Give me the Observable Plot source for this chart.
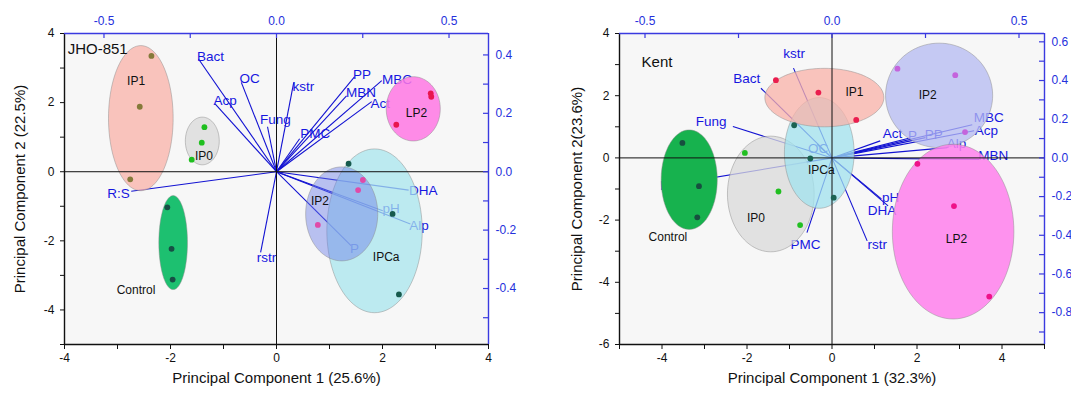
<!DOCTYPE html>
<html><head><meta charset="utf-8">
<script src="https://cdn.jsdelivr.net/npm/d3@7"></script>
<script src="https://cdn.jsdelivr.net/npm/@observablehq/plot@0.6"></script>
<style>
body{margin:0;background:#fff}
#wrap{position:relative;width:1071px;height:395px;background:#fff}
#left,#right{position:absolute;top:0}
#left{left:0}
#right{left:540px}
</style>
</head><body><div id="wrap"><div id="left"></div><div id="right"></div></div>
<script>
// ---------------- JHO-851 ----------------
const jhoGroup = ["IP1","IP1","IP1","IP0","IP0","IP0","Control","Control","Control","LP2","LP2","LP2","IPCa","IPCa","IPCa","IP2","IP2","IP2"];
const jhoPC1 = [-2.36,-2.58,-2.76,-1.36,-1.41,-1.60,-2.06,-1.98,-1.96,2.91,2.92,2.26,1.36,2.19,2.31,1.63,1.54,0.78];
const jhoPC2 = [3.35,1.88,-0.22,1.29,0.84,0.35,-1.03,-2.23,-3.12,2.27,2.17,1.36,0.23,-1.22,-3.55,-0.24,-0.53,-1.54];

const jhoEllName = ["IP1","IP0","Control","IPCa","IP2","LP2"];
const jhoEllCx = [-2.56,-1.40,-1.95,1.85,1.23,2.58];
const jhoEllCy = [1.55,0.89,-2.05,-1.71,-1.22,1.82];
const jhoEllRx = [0.61,0.32,0.27,0.90,0.68,0.51];
const jhoEllRy = [2.10,0.69,1.36,2.37,1.36,0.93];
const jhoEllFill = ["#f9b2a8","#d9d9d9","#1dc070","#a8e6ee","#6a7de6","#ff78e4"];
const jhoEllOpacity = [0.75,0.75,1,0.75,0.45,0.85];
const jhoDotColor = ["#857a3a","#1fbf1f","#174f45","#175a4d","#e04aa8","#e8164f"];
const jhoLabelX = [-2.65,-1.37,-2.65,2.07,0.82,2.64];
const jhoLabelY = [2.63,0.46,-3.44,-2.48,-0.86,1.69];

const jhoVar = ["Bact","OC","Acp","Fung","kstr","PMC","PP","MBN","MBC","Act","DHA","pH","Alp","P","rstr","R:S"];
const jhoLoad1 = [-0.226,-0.102,-0.178,-0.026,0.050,0.067,0.226,0.203,0.305,0.276,0.383,0.308,0.388,0.216,-0.046,-0.421];
const jhoLoad2 = [0.386,0.306,0.232,0.154,0.306,0.113,0.325,0.260,0.312,0.240,-0.063,-0.134,-0.179,-0.253,-0.276,-0.067];
const jhoVarLabelX = [-0.191,-0.078,-0.149,-0.003,0.078,0.112,0.248,0.245,0.349,0.301,0.425,0.332,0.413,0.226,-0.029,-0.458];
const jhoVarLabelY = [0.395,0.320,0.243,0.177,0.291,0.129,0.332,0.270,0.315,0.233,-0.065,-0.128,-0.185,-0.265,-0.293,-0.074];

// ---------------- Kent ----------------
const kentGroup = ["Control","Control","Control","IP0","IP0","IP0","IP1","IP1","IP1","IPCa","IPCa","IPCa","IP2","IP2","IP2","LP2","LP2","LP2"];
const kentPC1 = [-3.52,-3.13,-3.17,-2.05,-1.26,-0.75,-1.32,-0.32,0.57,-0.89,-0.51,0.04,1.54,2.90,3.13,2.01,2.87,3.70];
const kentPC2 = [0.48,-0.91,-1.91,0.16,-1.08,-2.16,2.50,2.10,1.22,1.05,-0.02,-1.28,2.87,2.66,0.83,-0.19,-1.55,-4.46];

const kentEllName = ["Control","IP0","IPCa","IP1","IP2","LP2"];
const kentEllCx = [-3.36,-1.44,-0.30,-0.18,2.52,2.85];
const kentEllCy = [-0.70,-1.16,0.16,1.94,2.01,-2.37];
const kentEllRx = [0.66,1.02,0.82,1.40,1.26,1.43];
const kentEllRy = [1.60,1.86,1.78,0.94,1.68,2.81];
const kentEllFill = ["#17b24e","#d9d9d9","#a0e2ee","#f9b2a8","#b4baf2","#ff80ec"];
const kentEllOpacity = [1,0.75,0.75,0.75,0.75,0.85];
const kentDotColor = ["#174f3f","#21bf21","#1b6353","#ea1d4e","#c464dc","#ef1189"];
const kentLabelX = [-3.86,-1.79,-0.25,0.53,2.25,2.93];
const kentLabelY = [-2.54,-1.95,-0.40,2.13,2.02,-2.61];

const kentVar = ["kstr","Bact","Fung","R:S","OC","PMC","rstr","DHA","pH","Act","P","PP","MBC","Acp","Alp","MBN"];
const kentLoad1 = [-0.103,-0.190,-0.265,-0.398,-0.040,-0.067,0.094,0.150,0.132,0.129,0.205,0.250,0.375,0.380,0.308,0.393];
const kentLoad2 = [0.464,0.360,0.162,-0.128,0.070,-0.386,-0.429,-0.248,-0.212,0.088,0.102,0.105,0.171,0.140,0.053,-0.008];
const kentVarLabelX = [-0.101,-0.228,-0.323,-0.430,-0.037,-0.071,0.121,0.134,0.157,0.162,0.215,0.272,0.419,0.413,0.333,0.431];
const kentVarLabelY = [0.539,0.410,0.188,-0.141,0.048,-0.446,-0.446,-0.274,-0.205,0.125,0.114,0.122,0.208,0.140,0.071,0.014];

// axis tick values (loading axes)
const jhoTopTicks = [-0.5,-0.25,0,0.25,0.5];
const jhoTopLabels = [-0.5,0,0.5];
const jhoRightTicks = [-0.5,-0.4,-0.3,-0.2,-0.1,0,0.1,0.2,0.3,0.4];
const jhoRightLabels = [-0.4,-0.2,0,0.2,0.4];
const kentTopTicks = [-0.5,-0.25,0,0.25,0.5];
const kentTopLabels = [-0.5,0,0.5];
const kentRightTicks = [-0.9,-0.8,-0.7,-0.6,-0.5,-0.4,-0.3,-0.2,-0.1,0,0.1,0.2,0.3,0.4,0.5,0.6];
const kentRightLabels = [-0.8,-0.6,-0.4,-0.2,0,0.2,0.4,0.6];

const FONT = "'Liberation Sans', Arial, sans-serif";
const BLUE = "#2530dc";
const AXBLUE = "#3a3ae0";
const LOADBLUE = "#1212d2";
const LABELBLUE = "#1616e0";

function fmt1(v){ const r = Math.round(v*10)/10; return (r === 0 ? 0 : r).toFixed(1); }

function ellipsePts(cx, cy, rx, ry){
  const pts = [];
  for (let i = 0; i < 96; i++){ const t = i/96*2*Math.PI; pts.push({x: cx + rx*Math.cos(t), y: cy + ry*Math.sin(t)}); }
  return pts;
}

function biplot(c){
  const H = 395, mT = 33, mB = 51;
  const frameW = c.width - c.mL - c.mR, frameH = H - mT - mB;
  const loads = c.vars.map((n,i)=>({n, x: c.l1[i]*c.fx, y: c.l2[i]*c.fy, tx: c.lx[i]*c.fx, ty: c.ly[i]*c.fy}));
  const marks = [];
  marks.push(Plot.frame({fill: "#f7f7f7", stroke: "none"}));
  marks.push(Plot.link(loads, {x1: () => 0, y1: () => 0, x2: "x", y2: "y", stroke: LOADBLUE, strokeWidth: 1.1}));
  marks.push(Plot.text(loads, {x: "tx", y: "ty", text: "n", fill: LABELBLUE, fontSize: 13.5}));
  c.ename.forEach((n,i) => {
    marks.push(Plot.line(ellipsePts(c.ecx[i], c.ecy[i], c.erx[i], c.ery[i]), {
      x: "x", y: "y", curve: "linear-closed", fill: c.efill[i], fillOpacity: c.eop[i],
      stroke: "#8c8c8c", strokeWidth: 0.6, strokeOpacity: 0.8}));
  });
  marks.push(Plot.ruleX([0], {stroke: "#111", strokeWidth: 1}));
  marks.push(Plot.ruleY([0], {stroke: "#111", strokeWidth: 1}));
  c.ename.forEach((n,i) => {
    const pts = c.group.map((g,j)=>({g, x: c.pc1[j], y: c.pc2[j]})).filter(d => d.g === n);
    marks.push(Plot.dot(pts, {x: "x", y: "y", r: 2.9, fill: c.dcolor[i], stroke: "none"}));
  });
  const glab = c.ename.map((n,i)=>({n, x: c.glx[i], y: c.gly[i]}));
  marks.push(Plot.text(glab, {x: "x", y: "y", text: "n", fill: "#111", fontSize: 12}));
  marks.push(Plot.text([c.tag], {x: () => c.tagX, y: () => c.tagY, text: d => d, textAnchor: "start", fill: "#111", fontSize: 15}));
  // frame lines
  marks.push(Plot.ruleX([c.xDom[0]], {stroke: "#111", strokeWidth: 1.4}));
  marks.push(Plot.ruleY([c.yDom[0]], {stroke: "#111", strokeWidth: 1.4}));
  marks.push(Plot.ruleX([c.xDom[1]], {stroke: AXBLUE, strokeWidth: 1.4}));
  marks.push(Plot.ruleY([c.yDom[1]], {stroke: AXBLUE, strokeWidth: 1.4}));
  // axes
  const evenFmt = d => (d % 2 === 0 ? String(d) : "");
  marks.push(Plot.axisX({anchor: "bottom", ticks: d3.range(c.xDom[0], c.xDom[1] + 1), tickSize: 5, tickPadding: 4, tickFormat: evenFmt, fontSize: 12, label: null, color: "#111"}));
  marks.push(Plot.axisY({anchor: "left", ticks: d3.range(c.yDom[0], c.yDom[1] + 1), tickSize: 4, tickPadding: 6, tickFormat: evenFmt, fontSize: 12, label: null, color: "#111"}));
  marks.push(Plot.axisX({anchor: "top", ticks: c.topLabels.map(v => v*c.fx), tickSize: 0, tickPadding: 9, tickFormat: d => fmt1(d/c.fx), fontSize: 12, label: null, color: BLUE}));
  marks.push(Plot.axisY({anchor: "right", ticks: c.rightLabels.map(v => v*c.fy), tickSize: 0, tickPadding: 7, tickFormat: d => fmt1(d/c.fy), fontSize: 12, label: null, color: BLUE}));
  marks.push(Plot.tickX(c.topTicks.map(v => v*c.fx), {x: d => d, stroke: AXBLUE, strokeWidth: 1.2, insetBottom: frameH - 5}));
  marks.push(Plot.tickY(c.rightTicks.map(v => v*c.fy), {y: d => d, stroke: AXBLUE, strokeWidth: 1.2, insetLeft: frameW - 5}));
  // axis titles
  marks.push(Plot.text([c.xTitle], {frameAnchor: "bottom", dy: 38, text: d => d, fontSize: 15, fill: "#111", textAnchor: "middle"}));
  marks.push(Plot.text([c.yTitle], {frameAnchor: "left", dx: -c.yTitleOff, rotate: -90, text: d => d, fontSize: 15, fill: "#111", textAnchor: "middle"}));

  return Plot.plot({
    width: c.width, height: H, marginLeft: c.mL, marginRight: c.mR, marginTop: mT, marginBottom: mB,
    x: {domain: c.xDom}, y: {domain: c.yDom},
    style: {fontFamily: FONT, fontSize: "12px", background: "transparent", overflow: "visible"},
    marks
  });
}

document.getElementById("left").append(biplot({
  width: 540, mL: 64, mR: 52, xDom: [-4, 4], yDom: [-5, 4], fx: 6.51, fy: 8.45,
  group: jhoGroup, pc1: jhoPC1, pc2: jhoPC2,
  ename: jhoEllName, ecx: jhoEllCx, ecy: jhoEllCy, erx: jhoEllRx, ery: jhoEllRy, efill: jhoEllFill, eop: jhoEllOpacity,
  dcolor: jhoDotColor, glx: jhoLabelX, gly: jhoLabelY,
  vars: jhoVar, l1: jhoLoad1, l2: jhoLoad2, lx: jhoVarLabelX, ly: jhoVarLabelY,
  topTicks: jhoTopTicks, topLabels: jhoTopLabels, rightTicks: jhoRightTicks, rightLabels: jhoRightLabels,
  tag: "JHO-851", tagX: -3.94, tagY: 3.55,
  xTitle: "Principal Component 1 (25.6%)", yTitle: "Principal Component 2 (22.5%)", yTitleOff: 44
}));

document.getElementById("right").append(biplot({
  width: 531, mL: 79, mR: 27, xDom: [-5, 5], yDom: [-6, 4], fx: 8.8, fy: 6.22,
  group: kentGroup, pc1: kentPC1, pc2: kentPC2,
  ename: kentEllName, ecx: kentEllCx, ecy: kentEllCy, erx: kentEllRx, ery: kentEllRy, efill: kentEllFill, eop: kentEllOpacity,
  dcolor: kentDotColor, glx: kentLabelX, gly: kentLabelY,
  vars: kentVar, l1: kentLoad1, l2: kentLoad2, lx: kentVarLabelX, ly: kentVarLabelY,
  topTicks: kentTopTicks, topLabels: kentTopLabels, rightTicks: kentRightTicks, rightLabels: kentRightLabels,
  tag: "Kent", tagX: -4.48, tagY: 3.09,
  xTitle: "Principal Component 1 (32.3%)", yTitle: "Principal Component 2(23.6%)", yTitleOff: 42
}));
</script></body></html>
